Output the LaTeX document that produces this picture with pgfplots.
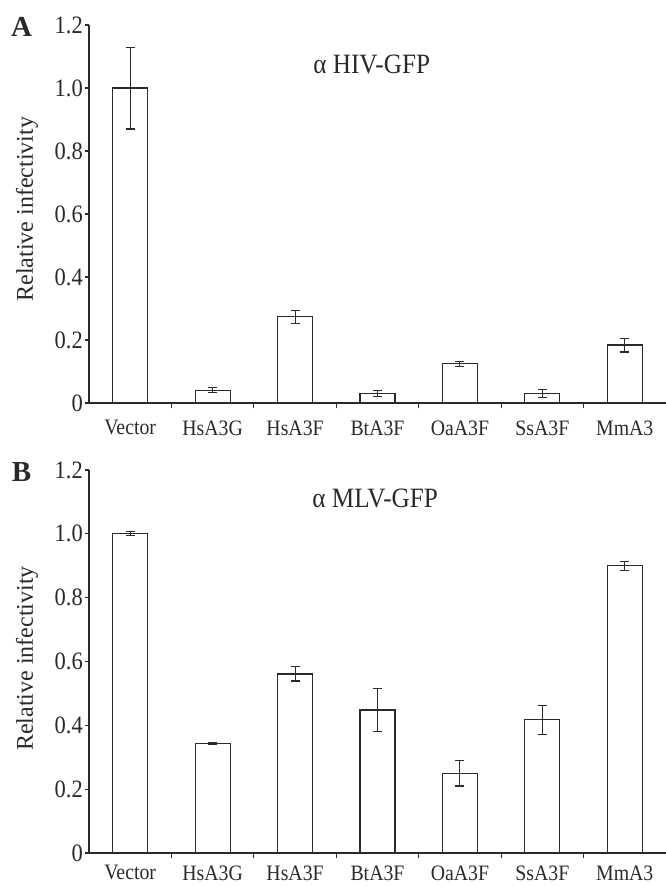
\documentclass[border=0pt]{standalone}
\usepackage{pgfplots}
\pgfplotsset{compat=1.18}
\usepackage{fontspec}
\setmainfont{Liberation Serif}
\usepackage{graphicx}
% the source figure is squeezed horizontally
\newcommand{\sq}[1]{\scalebox{0.9}[1]{#1}}
\definecolor{ink}{HTML}{2A2A2A}

\pgfplotsset{
  panel/.style={
    scale only axis, width=577pt,
    xmin=-0.5, xmax=6.5, ymin=0, ymax=1.2,
    axis x line=bottom, axis y line=left,
    axis line style={-, ink, line width=1.1pt},
    tick align=outside,
    major tick length=4pt, minor tick length=5pt,
    every tick/.style={ink, line width=1.1pt},
    major x tick style={draw=none},
    ytick={0,0.2,0.4,0.6,0.8,1.0,1.2},
    yticklabels={\sq{0},\sq{0.2},\sq{0.4},\sq{0.6},\sq{0.8},\sq{1.0},\sq{1.2}},
    xtick={0,...,6},
    minor xtick={0.5,1.5,2.5,3.5,4.5,5.5},
    xticklabels={\sq{Vector},\sq{HsA3G},\sq{HsA3F},\sq{BtA3F},\sq{OaA3F},\sq{SsA3F},\sq{MmA3}},
    yticklabel style={font=\fontsize{25}{25}\selectfont, text=ink, inner sep=2pt},
    xticklabel style={font=\fontsize{22}{22}\selectfont, text=ink},
    ylabel={Relative infectivity},
    ylabel style={font=\fontsize{24}{24}\selectfont, text=ink, anchor=center},
    clip=false,
  },
  bars/.style={
    ybar, bar width=35pt, fill=white, draw=ink, line width=1.1pt,
    error bars/.cd, y dir=both, y explicit,
    error bar style={ink, line width=1.1pt},
    error mark options={rotate=90, mark size=4.5pt, ink, line width=1.1pt},
  },
}

\begin{document}
\begin{tikzpicture}[x=1pt,y=1pt]
\path[use as bounding box] (0,0) rectangle (666,-887);

% panel A
\begin{axis}[panel, height=378pt, at={(89pt,-403pt)}, anchor=south west,
    xticklabel style={yshift=-10pt},
    ylabel style={at={(axis description cs:-0.1075,0.513)}}]
\addplot[bars] coordinates {
  (0,1.00)  +- (0,0.13)
  (1,0.041) +- (0,0.007)
  (2,0.274) +- (0,0.021)
  (3,0.030) +- (0,0.009)
  (4,0.124) +- (0,0.008)
  (5,0.030) +- (0,0.012)
  (6,0.184) +- (0,0.022)
};
\node[font=\fontsize{29}{29}\selectfont\bfseries, text=ink] at (axis description cs:-0.117,0.995) {A};
\node[font=\fontsize{28}{28}\selectfont, text=ink] at (axis description cs:0.49,0.895) {\sq{α\ HIV-GFP}};
\end{axis}

% panel B
\begin{axis}[panel, height=383pt, at={(89pt,-853pt)}, anchor=south west,
    xticklabel style={yshift=-5pt},
    ylabel style={at={(axis description cs:-0.1075,0.508)}}]
\addplot[bars] coordinates {
  (0,1.000) +- (0,0.006)
  (1,0.342) +- (0,0.003)
  (2,0.561) +- (0,0.022)
  (3,0.448) +- (0,0.068)
  (4,0.250) +- (0,0.040)
  (5,0.417) +- (0,0.045)
  (6,0.900) +- (0,0.014)
};
\node[font=\fontsize{29}{29}\selectfont\bfseries, text=ink] at (axis description cs:-0.117,0.995) {B};
\node[font=\fontsize{28}{28}\selectfont, text=ink] at (axis description cs:0.496,0.926) {\sq{α\ MLV-GFP}};
\end{axis}
\end{tikzpicture}
\end{document}
